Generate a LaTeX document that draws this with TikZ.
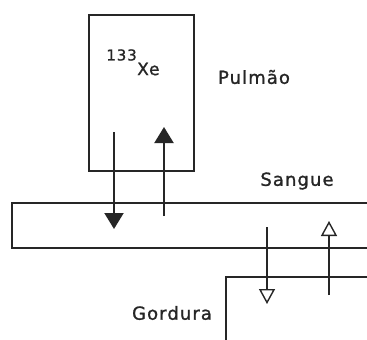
\documentclass[tikz,border=0pt]{standalone}
\usepackage{fontspec}
\setmainfont{DejaVu Sans}[LetterSpace=6, FakeBold=1.2]
\usetikzlibrary{arrows.meta}
\begin{document}
\begin{tikzpicture}[x=1pt,y=-1pt,
  box/.style={draw=black!85, line width=1.5pt, inner sep=0pt, anchor=north west},
  lbl/.style={inner sep=0pt, text=black!85, font=\fontsize{18}{18}\selectfont},
  solidflow/.style={draw=black!85, line width=2pt, -{Triangle[length=16pt,width=19pt]}},
  openflow/.style={draw=black!85, line width=1.4pt, -{Triangle[open,length=15pt,width=16pt,line width=1.4pt]}}]
\useasboundingbox (0,0) rectangle (367,340);
\clip (0,0) rectangle (367,340);
\fill[white] (0,0) rectangle (367,340);
% compartments
\node[box, minimum width=105pt, minimum height=156pt] (lung) at (88,14) {};
\node[box, minimum width=370pt, minimum height=45pt] (blood) at (11,202) {};
\node[box, minimum width=160pt, minimum height=80pt] (fat) at (225,276) {};
% labels
\node[lbl, font=\fontsize{15}{15}\selectfont, anchor=east] (iso) at (137,55) {133};
\node[lbl, font=\fontsize{17}{17}\selectfont, anchor=west] (xe) at (iso.east |- 0,69) {Xe};
\node[lbl] (pulmao) at (254,77) {Pulmão};
\node[lbl] (sangue) at (297,181) {Sangue};
\node[lbl] (gordura) at (172,313) {Gordura};
% flows lung <-> blood
\coordinate (ld1) at (114,132); \coordinate (ld2) at (114,229);
\coordinate (lu1) at (164,216); \coordinate (lu2) at (164,127);
\draw[solidflow] (ld1) -- (ld2);
\draw[solidflow] (lu1) -- (lu2);
% flows blood <-> fat
\coordinate (fd1) at (267,227); \coordinate (fd2) at (267,304);
\coordinate (fu1) at (329,295); \coordinate (fu2) at (329,221);
\draw[openflow] (fd1) -- (fd2);
\draw[openflow] (fu1) -- (fu2);
\end{tikzpicture}
\end{document}
